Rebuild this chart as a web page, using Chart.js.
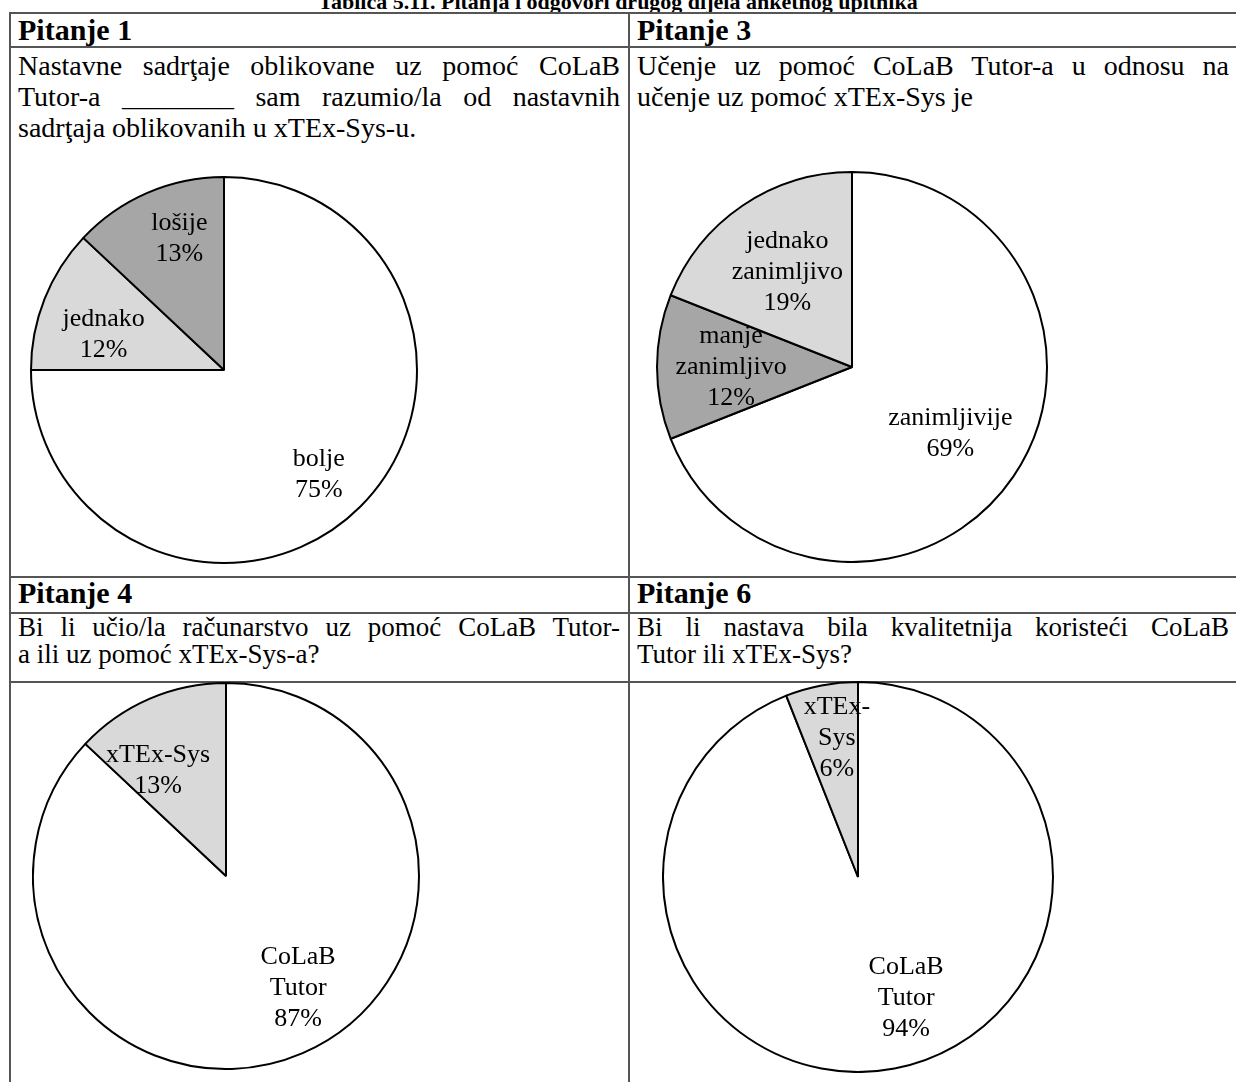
<!DOCTYPE html>
<html>
<head>
<meta charset="utf-8">
<script src="https://cdn.jsdelivr.net/npm/chart.js@4"></script>
<style>
  body { margin: 0; background: #fff; }
  #page { position: relative; width: 1236px; height: 1082px; overflow: hidden; background: #fff;
          font-family: "Liberation Serif", "Times New Roman", serif; color: #000; }
  .hl, .vl { position: absolute; background: #555; }
  .hl { height: 2px; }
  .vl { width: 2px; }
  .t { position: absolute; font-size: 27px; line-height: 27px; white-space: nowrap; }
  .r1 { font-size: 28px; line-height: 28px; }
  .j { text-align: justify; text-align-last: justify; }
  .b { font-weight: bold; font-size: 30px; line-height: 30px; }
  #title { position: absolute; left: 0; width: 1236px; text-align: center; font-weight: bold;
           font-size: 22px; line-height: 22px; top: -9px; }
  canvas { position: absolute; }
</style>
</head>
<body>
<div id="page">
  <div id="title">Tablica 5.11. Pitanja i odgovori drugog dijela anketnog upitnika</div>

  <div class="hl" style="left:9px;width:1227px;top:12px"></div>
  <div class="hl" style="left:9px;width:1227px;top:46px"></div>
  <div class="hl" style="left:9px;width:1227px;top:576px"></div>
  <div class="hl" style="left:9px;width:1227px;top:612px"></div>
  <div class="hl" style="left:9px;width:1227px;top:681px"></div>
  <div class="vl" style="left:9px;top:12px;height:1070px"></div>
  <div class="vl" style="left:628px;top:12px;height:1070px"></div>

  <div class="t b" style="left:18px;top:15px">Pitanje 1</div>
  <div class="t b" style="left:637px;top:15px">Pitanje 3</div>
  <div class="t r1 j" style="left:18px;width:602px;top:52px">Nastavne sadrţaje oblikovane uz pomoć CoLaB</div>
  <div class="t r1 j" style="left:18px;width:602px;top:83px">Tutor-a ________ sam razumio/la od nastavnih</div>
  <div class="t r1" style="left:18px;top:114px">sadrţaja oblikovanih u xTEx-Sys-u.</div>
  <div class="t r1 j" style="left:637px;width:592px;top:52px">Učenje uz pomoć CoLaB Tutor-a u odnosu na</div>
  <div class="t r1" style="left:637px;top:83px">učenje uz pomoć xTEx-Sys je</div>

  <div class="t b" style="left:18px;top:578px">Pitanje 4</div>
  <div class="t b" style="left:637px;top:578px">Pitanje 6</div>
  <div class="t j" style="left:18px;width:602px;top:614px">Bi li učio/la računarstvo uz pomoć CoLaB Tutor-</div>
  <div class="t" style="left:18px;top:641px">a ili uz pomoć xTEx-Sys-a?</div>
  <div class="t j" style="left:637px;width:592px;top:614px">Bi li nastava bila kvalitetnija koristeći CoLaB</div>
  <div class="t" style="left:637px;top:641px">Tutor ili xTEx-Sys?</div>

  <canvas id="pie1" width="388" height="388" style="left:30px;top:176px"></canvas>
  <canvas id="pie3" width="392" height="392" style="left:656px;top:171px"></canvas>
  <canvas id="pie4" width="388" height="388" style="left:32px;top:682px"></canvas>
  <canvas id="pie6" width="392" height="392" style="left:662px;top:681px"></canvas>
</div>

<script>
// Pitanje 1
const q1Categories = ["bolje", "jednako", "lošije"];
const q1Values = [75, 12, 13];

// Pitanje 3
const q3Categories = ["zanimljivije", ["manje", "zanimljivo"], ["jednako", "zanimljivo"]];
const q3Values = [69, 12, 19];

// Pitanje 4
const q4Categories = [["CoLaB", "Tutor"], "xTEx-Sys"];
const q4Values = [87, 13];

// Pitanje 6
const q6Categories = [["CoLaB", "Tutor"], ["xTEx-", "Sys"]];
const q6Values = [94, 6];

const WHITE = "#ffffff", LIGHT = "#d9d9d9", DARK = "#a6a6a6";

// draws "name / value%" inside each slice; place = [fraction along the slice, fraction of radius]
const sliceLabels = {
  id: "sliceLabels",
  afterDatasetsDraw(chart, args, opts) {
    const ctx = chart.ctx;
    const meta = chart.getDatasetMeta(0);
    const values = chart.data.datasets[0].data;
    ctx.save();
    ctx.font = '26px "Liberation Serif"';
    ctx.fillStyle = "#000";
    ctx.textAlign = "center";
    ctx.textBaseline = "middle";
    meta.data.forEach((arc, i) => {
      const p = arc.getProps(["x", "y", "startAngle", "endAngle", "outerRadius"], true);
      const [along, out] = (opts.place && opts.place[i]) || [0.5, 0.68];
      const a = p.startAngle + (p.endAngle - p.startAngle) * along;
      const cx = p.x + Math.cos(a) * p.outerRadius * out;
      const cy = p.y + Math.sin(a) * p.outerRadius * out;
      const lines = [].concat(chart.data.labels[i], values[i] + "%");
      lines.forEach((t, k) => {
        ctx.fillText(t, cx, cy + (k - (lines.length - 1) / 2) * 31);
      });
    });
    ctx.restore();
  }
};

function drawPie(id, labels, data, colors, place) {
  new Chart(document.getElementById(id).getContext("2d"), {
    type: "pie",
    data: {
      labels,
      datasets: [{
        data,
        backgroundColor: colors,
        borderColor: "#000",
        borderWidth: 2,
        hoverOffset: 0
      }]
    },
    options: {
      responsive: false,
      animation: false,
      layout: { padding: 0 },
      plugins: {
        legend: { display: false },
        tooltip: { enabled: false },
        sliceLabels: { place }
      }
    },
    plugins: [sliceLabels]
  });
}

drawPie("pie1", q1Categories, q1Values, [WHITE, LIGHT, DARK], [[0.51, 0.73], [0.38, 0.65], [0.6, 0.72]]);
drawPie("pie3", q3Categories, q3Values, [WHITE, DARK, LIGHT], [[0.5, 0.61], [0.5, 0.62], [0.5, 0.59]]);
drawPie("pie4", q4Categories, q4Values, [WHITE, LIGHT], [[0.47, 0.69], [0.3, 0.65]]);
drawPie("pie6", q6Categories, q6Values, [WHITE, LIGHT], [[0.468, 0.67], [0.6, 0.72]]);
</script>
</body>
</html>
